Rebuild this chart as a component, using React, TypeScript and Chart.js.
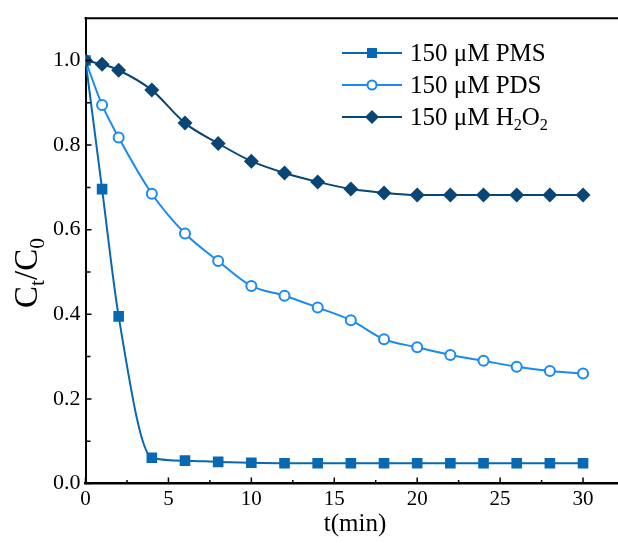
import React, { useEffect, useRef } from 'react';
import { Chart, registerables } from 'chart.js';
Chart.register(...registerables);

const times = [0, 1, 2, 4, 6, 8, 10, 12, 14, 16, 18, 20, 22, 24, 26, 28, 30];
const pms = [1.0, 0.696, 0.395, 0.061, 0.054, 0.051, 0.049, 0.048, 0.048, 0.048, 0.048, 0.048, 0.048, 0.048, 0.048, 0.048, 0.048];
const pds = [1.0, 0.895, 0.818, 0.685, 0.591, 0.526, 0.467, 0.444, 0.416, 0.386, 0.341, 0.322, 0.304, 0.29, 0.276, 0.266, 0.26];
const h2o2 = [1.0, 0.991, 0.977, 0.93, 0.852, 0.804, 0.762, 0.734, 0.713, 0.696, 0.687, 0.682, 0.682, 0.682, 0.682, 0.682, 0.682];

const xTicks = [0, 5, 10, 15, 20, 25, 30];
const xMinor = [2.5, 7.5, 12.5, 17.5, 22.5, 27.5];
const yTicks = [0, 0.2, 0.4, 0.6, 0.8, 1.0];
const yMinor = [0.1, 0.3, 0.5, 0.7, 0.9];

type Part = { t: string; sub?: boolean };
const legendLabels: Part[][] = [
  [{ t: '150 μM PMS' }],
  [{ t: '150 μM PDS' }],
  [{ t: '150 μM H' }, { t: '2', sub: true }, { t: 'O' }, { t: '2', sub: true }],
];
const xTitle: Part[] = [{ t: 't(min)' }];
const yTitle: Part[] = [{ t: 'C' }, { t: 't', sub: true }, { t: '/C' }, { t: '0', sub: true }];

const colors = ['#0868b2', '#1a8af2', '#0a4675'];
const styles = ['rect', 'circle', 'rectRot'];

const FONT = '"Liberation Serif", "Times New Roman", serif';

function richWidth(ctx: CanvasRenderingContext2D, parts: Part[], size: number) {
  let w = 0;
  for (const p of parts) {
    ctx.font = `${p.sub ? size * 0.65 : size}px ${FONT}`;
    w += ctx.measureText(p.t).width;
  }
  return w;
}

function drawRich(ctx: CanvasRenderingContext2D, parts: Part[], x: number, y: number, size: number) {
  let cx = x;
  ctx.textBaseline = 'middle';
  ctx.textAlign = 'left';
  for (const p of parts) {
    ctx.font = `${p.sub ? size * 0.65 : size}px ${FONT}`;
    ctx.fillText(p.t, cx, p.sub ? y + size * 0.3 : y);
    cx += ctx.measureText(p.t).width;
  }
}

function drawMarker(ctx: CanvasRenderingContext2D, style: string, x: number, y: number, color: string) {
  ctx.save();
  ctx.fillStyle = color;
  ctx.strokeStyle = color;
  ctx.lineWidth = 2;
  ctx.beginPath();
  if (style === 'rect') {
    ctx.rect(x - 5, y - 5, 10, 10);
    ctx.fill();
  } else if (style === 'circle') {
    ctx.arc(x, y, 4.5, 0, Math.PI * 2);
    ctx.fillStyle = '#fff';
    ctx.fill();
    ctx.stroke();
  } else {
    ctx.moveTo(x, y - 7);
    ctx.lineTo(x + 7, y);
    ctx.lineTo(x, y + 7);
    ctx.lineTo(x - 7, y);
    ctx.closePath();
    ctx.fill();
  }
  ctx.restore();
}

const decor = {
  id: 'decor',
  afterDatasetsDraw(chart: any) {
    const ctx: CanvasRenderingContext2D = chart.ctx;
    const { left, top, right, bottom } = chart.chartArea;
    const xs = chart.scales.x;
    const ys = chart.scales.y;
    ctx.save();
    ctx.strokeStyle = '#000';
    ctx.fillStyle = '#000';
    // frame: top line
    ctx.lineWidth = 2;
    ctx.beginPath();
    ctx.moveTo(left - 1, top);
    ctx.lineTo(right + 2, top);
    ctx.stroke();
    // ticks inside
    ctx.lineWidth = 1.5;
    ctx.beginPath();
    for (const v of xTicks) {
      const px = xs.getPixelForValue(v);
      ctx.moveTo(px, bottom);
      ctx.lineTo(px, bottom - 6);
    }
    for (const v of xMinor) {
      const px = xs.getPixelForValue(v);
      ctx.moveTo(px, bottom);
      ctx.lineTo(px, bottom - 3.5);
    }
    for (const v of yTicks) {
      const py = ys.getPixelForValue(v);
      ctx.moveTo(left, py);
      ctx.lineTo(left + 6, py);
    }
    for (const v of yMinor) {
      const py = ys.getPixelForValue(v);
      ctx.moveTo(left, py);
      ctx.lineTo(left + 5, py);
    }
    ctx.stroke();

    // axis titles
    const tsize = 25;
    const xw = richWidth(ctx, xTitle, tsize);
    drawRich(ctx, xTitle, 355 - xw / 2, 524, tsize);
    ctx.save();
    ctx.translate(28, 273);
    ctx.rotate(-Math.PI / 2);
    const ysz = 33;
    const yw = richWidth(ctx, yTitle, ysz);
    drawRich(ctx, yTitle, -yw / 2, 0, ysz);
    ctx.restore();

    // legend
    const lx0 = 342, lx1 = 402, tx = 410;
    const rows = [53, 85, 117];
    legendLabels.forEach((parts, i) => {
      const y = rows[i];
      ctx.save();
      ctx.strokeStyle = colors[i];
      ctx.lineWidth = 2;
      ctx.beginPath();
      ctx.moveTo(lx0, y);
      ctx.lineTo(lx1, y);
      ctx.stroke();
      ctx.restore();
      drawMarker(ctx, styles[i], (lx0 + lx1) / 2, y, colors[i]);
      ctx.fillStyle = '#000';
      drawRich(ctx, parts, tx, y + 1, 25);
    });
    ctx.restore();
  },
};

export default function App() {
  const ref = useRef<HTMLCanvasElement>(null);
  useEffect(() => {
    if (!ref.current) return;
    const mk = (data: number[], i: number, extra: any) => ({
      data: times.map((t, k) => ({ x: t, y: data[k] })),
      borderColor: colors[i],
      backgroundColor: colors[i],
      borderWidth: 2,
      pointStyle: styles[i],
      cubicInterpolationMode: 'monotone',
      pointBorderWidth: 0,
      ...extra,
    });
    const chart = new Chart(ref.current, {
      type: 'line',
      data: {
        datasets: [
          mk(pms, 0, { pointRadius: 7.5, pointBorderWidth: 0 }),
          mk(pds, 1, { pointRadius: 5, pointBorderWidth: 2, pointBackgroundColor: '#fff', pointBorderColor: colors[1] }),
          mk(h2o2, 2, { pointRadius: 7.5, pointBorderWidth: 0 }),
        ].reverse() as any,
      },
      options: {
        animation: false,
        responsive: false,
        events: [],
        layout: { padding: { left: 0, right: 0, top: 15, bottom: 0 } },
        plugins: { legend: { display: false }, tooltip: { enabled: false } },
        scales: {
          x: {
            type: 'linear',
            min: 0,
            max: 32.5,
            grid: { display: false, drawTicks: false },
            border: { display: true, color: '#000', width: 2.5 },
            afterBuildTicks: (s: any) => { s.ticks = xTicks.map((v) => ({ value: v })); },
            afterFit: (s: any) => { s.height = 59.5; },
            ticks: { color: '#000', padding: 3, font: { family: FONT, size: 21 }, maxRotation: 0, autoSkip: false },
          },
          y: {
            type: 'linear',
            min: 0,
            max: 1.1,
            grid: { display: false, drawTicks: false },
            border: { display: true, color: '#000', width: 2 },
            afterBuildTicks: (s: any) => { s.ticks = yTicks.map((v) => ({ value: v })); },
            afterFit: (s: any) => { s.width = 85.5; },
            ticks: {
              color: '#000',
              padding: 5,
              font: { family: FONT, size: 22 },
              callback: (v: any) => Number(v).toFixed(1),
            },
          },
        },
      },
      plugins: [decor],
    });
    return () => chart.destroy();
  }, []);
  return (
    <div style={{ position: 'fixed', left: 0, top: 0, width: 632, height: 543, background: '#fff' }}>
      <canvas ref={ref} width={632} height={543} />
    </div>
  );
}
